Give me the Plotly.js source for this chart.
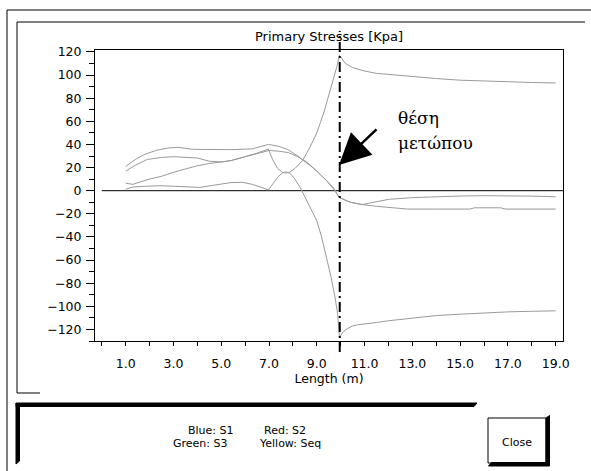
<!DOCTYPE html>
<html><head><meta charset="utf-8">
<script src="https://cdn.plot.ly/plotly-3.0.1.min.js"></script>
<style>html,body{margin:0;padding:0;background:#fff;}#chart{width:591px;height:471px;}</style>
</head><body><div id="chart"></div>
<script>
// ---- data ----
const xS1 = [1.0,1.3,1.9,2.5,3.0,3.5,4.0,4.5,5.0,5.4,6.0,6.5,6.97,7.15,7.35,7.55,7.7,7.87,8.1,8.4,8.7,9.0,9.3,9.5,9.7,9.85,9.95,10.2,10.5,11.0,11.5,12.0,13.0,14.0,15.0,16.0,17.0,18.0,19.0];
const yS1 = [6.5,5.5,9.5,12.5,15.9,18.8,21.6,23.5,24.8,26,29.5,32.5,36,27,19.5,16,15.3,16,19.5,26,37,50,68,82,98,108,117,110,106.5,103.5,101.5,100.5,98.7,97,95.6,94.8,94.2,93.6,93.2];

const xS2 = [1.0,1.4,1.8,2.3,2.8,3.2,3.8,4.5,5.4,6.3,6.97,7.4,7.8,8.2,8.5,8.8,9.1,9.4,9.7,9.95,10.4,10.9,11.5,12.0,13.0,14.0,15.0,16.0,17.0,18.0,19.0];
const yS2 = [21,27,31.5,35,37,37.5,35.8,35.5,35.5,36.2,40,38.5,35.5,30,25.5,20.5,15,9,2.5,-6,-10,-12,-9.5,-7.5,-6,-5.2,-4.6,-4.3,-4.3,-4.7,-5.2];

const xS3 = [1.0,1.3,1.8,2.4,3.1,3.7,4.1,4.6,5.0,5.4,5.9,6.3,6.7,6.97,7.2,7.4,7.55,7.7,7.87,8.05,8.3,8.57,8.8,9.0,9.2,9.41,9.6,9.76,9.87,9.95,10.1,10.3,10.5,10.7,11.0,11.5,12.0,13.0,14.0,15.0,16.0,17.0,18.0,19.0];
const yS3 = [1.2,3.2,3.8,4.3,3.8,3.0,2.8,4.5,5.8,7.0,7.2,5.5,2.8,0.6,7,12.5,15.2,16.3,15.2,11,3,-8,-18,-26,-40,-58,-75,-92,-106,-127,-122,-119,-117,-116,-115,-114,-112.5,-110,-108,-106.8,-105.5,-104.8,-104.3,-103.9];

const xSeq = [1.0,1.4,1.9,2.5,3.0,3.5,4.0,4.5,5.0,5.4,6.0,6.5,7.0,7.4,7.8,8.2,8.6,9.0,9.4,9.7,9.95,10.4,10.9,11.5,12.0,12.8,14.0,15.4,15.6,16.7,16.9,18.0,19.0];
const ySeq = [17,22,27,28.8,29.4,29,28.3,25.5,24.8,26,29.5,32.5,34.8,34.2,33,29.5,24.5,17,9,1.5,-6,-10,-12,-13.5,-14.5,-15.9,-15.9,-15.9,-14.8,-14.8,-15.9,-15.9,-15.9];

const seriesNames = ['S1','S2','S3','Seq'];
const chartTitle = 'Primary Stresses [Kpa]';
const xTitle = 'Length (m)';
const frontX = 9.96;
const legendLines = [['Blue: S1','Red: S2'],['Green: S3','Yellow: Seq']];
const noteLines = ['θέση','μετώπου'];

// ---- geometry helpers (pixel -> paper) ----
const W = 591, H = 471, L = 95, R = 28, T = 50, B = 130;
const PW = W - L - R, PH = H - T - B;
const px = v => (v - L) / PW;
const py = v => (H - B - v) / PH;
const pline = (x0,y0,x1,y1,w) => ({type:'line',xref:'paper',yref:'paper',x0:px(x0),y0:py(y0),x1:px(x1),y1:py(y1),line:{color:'#000',width:w||1}});
const ppath = (pts,fill) => ({type:'path',xref:'paper',yref:'paper',
  path:'M'+pts.map(p=>px(p[0])+','+py(p[1])).join(' L')+' Z',
  fillcolor:fill, line:{color:'#000',width:1}});

const grey = '#9a9a9a';
const mk = (x,y,n) => ({x:x,y:y,name:n,type:'scatter',mode:'lines',line:{color:grey,width:1},hoverinfo:'skip'});
const data = [mk(xS1,yS1,seriesNames[0]),mk(xS2,yS2,seriesNames[1]),mk(xS3,yS3,seriesNames[2]),mk(xSeq,ySeq,seriesNames[3])];

const shapes = [
  {type:'line',xref:'x',yref:'y',x0:0,x1:19.306,y0:0,y1:0,line:{color:'#000',width:1},layer:'below'},
  {type:'line',xref:'x',yref:'paper',x0:frontX,x1:frontX,y0:py(352),y1:py(31),line:{color:'#000',width:2,dash:'10px,4px,2px,4px'}},
  pline(7,10,591,10,1), pline(7,10,7,471,1),
  pline(17,22,585,22,1), pline(17,22,17,393,1), pline(17,393,40,393,1),
  ppath([[16,403],[477,403],[474,406.5],[16,406.5]],'#000'),
  ppath([[16,403],[19.5,406.5],[19.5,461],[16,464]],'#000'),
  {type:'rect',xref:'paper',yref:'paper',x0:px(488),x1:px(546),y0:py(463),y1:py(418),fillcolor:'#fff',line:{color:'#000',width:1}},
  ppath([[546,418],[549.5,415.5],[549.5,466],[488.5,466],[491.5,462.5],[546,462.5]],'#000')
];

const legendFont = {family:'DejaVu Sans',size:11,color:'#000'};
const serifFont = {family:'DejaVu Serif',size:17,color:'#000'};
const annotations = [
  {xref:'x',yref:'y',x:9.93,y:22.2,ax:39,ay:-37,text:'',showarrow:true,arrowhead:2,arrowsize:2.5,arrowwidth:2.5,arrowcolor:'#000',standoff:0},
  {xref:'paper',yref:'paper',x:px(396),y:py(118),xanchor:'left',yanchor:'middle',showarrow:false,text:noteLines[0],font:serifFont},
  {xref:'paper',yref:'paper',x:px(396),y:py(143),xanchor:'left',yanchor:'middle',showarrow:false,text:noteLines[1],font:serifFont},
  {xref:'paper',yref:'paper',x:px(186),y:py(430),xanchor:'left',yanchor:'middle',showarrow:false,text:legendLines[0][0],font:legendFont},
  {xref:'paper',yref:'paper',x:px(261.5),y:py(430),xanchor:'left',yanchor:'middle',showarrow:false,text:legendLines[0][1],font:legendFont},
  {xref:'paper',yref:'paper',x:px(171),y:py(443),xanchor:'left',yanchor:'middle',showarrow:false,text:legendLines[1][0],font:legendFont},
  {xref:'paper',yref:'paper',x:px(256.5),y:py(443),xanchor:'left',yanchor:'middle',showarrow:false,text:legendLines[1][1],font:legendFont},
  {xref:'paper',yref:'paper',x:px(517),y:py(442),xanchor:'center',yanchor:'middle',showarrow:false,text:'Close',font:legendFont}
];

const layout = {
  width:W, height:H,
  margin:{l:L,r:R,t:T,b:B,pad:0},
  paper_bgcolor:'#fff', plot_bgcolor:'#fff',
  showlegend:false,
  font:{family:'DejaVu Sans',color:'#000',size:12.5},
  title:{text:chartTitle,font:{family:'DejaVu Sans',size:13,color:'#000'},x:0.5,xref:'paper',xanchor:'center',y:1-36/H,yref:'container',yanchor:'middle'},
  xaxis:{range:[-0.285,19.306],showline:true,linecolor:'#000',linewidth:1,mirror:true,
    ticks:'outside',ticklen:4,tickwidth:1,tickcolor:'#000',tickmode:'linear',tick0:1,dtick:2,tickformat:'.1f',
    ticklabelstandoff:7,
    showgrid:false,zeroline:false,fixedrange:true,
    minor:{ticks:'outside',tickmode:'linear',tick0:0,dtick:1,ticklen:4,tickcolor:'#000',showgrid:false},
    title:{text:xTitle,font:{family:'DejaVu Sans',size:12.5,color:'#000'},standoff:4}},
  yaxis:{range:[-130,121.7],showline:true,linecolor:'#000',linewidth:1,mirror:true,
    ticks:'outside',ticklen:8,tickwidth:1,tickcolor:'#000',tickmode:'linear',tick0:0,dtick:20,
    ticklabelstandoff:2,
    showgrid:false,zeroline:false,fixedrange:true,
    minor:{ticks:'outside',tickmode:'linear',tick0:0,dtick:10,ticklen:5,tickcolor:'#000',showgrid:false}},
  shapes:shapes,
  annotations:annotations
};

Plotly.newPlot('chart',data,layout,{displayModeBar:false,staticPlot:true});
</script>
</body></html>
